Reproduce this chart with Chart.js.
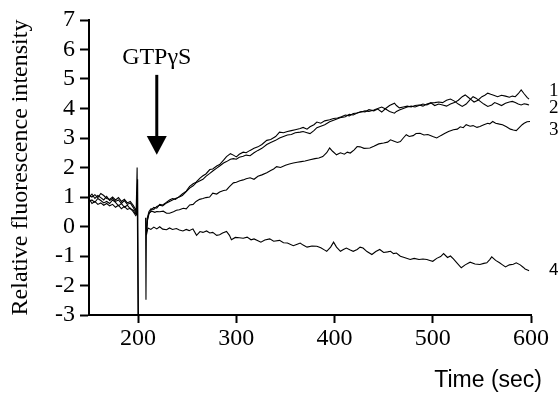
<!DOCTYPE html>
<html>
<head>
<meta charset="utf-8">
<script src="https://cdn.jsdelivr.net/npm/chart.js@4.4.1/dist/chart.umd.min.js"></script>
<style>
html,body{margin:0;padding:0;background:#fff;}
canvas{display:block;}
</style>
</head>
<body>
<canvas id="c" width="560" height="395"></canvas>
<script>
// ---- data (time in sec, relative fluorescence intensity) ----
const seriesNames = ["1", "2", "3", "4"];
const xTicks = [200, 300, 400, 500, 600];
const yTicks = [-3, -2, -1, 0, 1, 2, 3, 4, 5, 6, 7];
const yRange = [-3, 7];
const xRange = [150, 600];
const xTitle = "Time (sec)";
const yTitle = "Relative fluorescence intensity";
const injectLabel = "GTP\u03B3S";
const injectTime = 219;           // arrow position (sec)
const arrowValues = [5.14, 3.07, 2.43]; // arrow top, head base, tip (intensity units)
const injectLabelValue = 5.5;
const endLabelValues = [4.6, 4.0, 3.28, -1.5];

const series1 = [
 [150,1.05],[153,1.0],[156,1.08],[159,0.98],[162,1.12],[165,1.05],[168,0.95],[171,0.92],[174,1.0],[177,0.9],
 [180,0.98],[183,0.85],[186,0.92],[189,0.8],[192,0.85],[195,0.72],[197,0.6],[198,0.5],[199,2.0],[200,-3.8],
 [203,null],
 [208.5,-0.2],[209.5,0.2],[211,0.42],[213,0.55],[216,0.65],[219,0.62],[222,0.75],[225,0.73],[228,0.8],[232,0.9],
 [235,0.95],[238,0.92],[242,1.02],[245,1.1],[249,1.2],[252.5,1.36],[256,1.45],[259,1.5],[263,1.64],[266,1.72],
 [269,1.78],[273,1.93],[276,1.95],[280,2.05],[283,2.1],[287,2.25],[290,2.37],[294,2.47],[297,2.42],[300,2.36],
 [303,2.45],[307,2.52],[310,2.5],[314,2.58],[318,2.65],[322,2.7],[326,2.78],[331,2.92],[335,2.95],[340,3.05],
 [344,3.2],[348,3.18],[352,3.22],[356,3.25],[360,3.28],[365,3.32],[368,3.36],[372,3.3],[375,3.38],[379,3.45],
 [382,3.54],[386,3.5],[390,3.58],[395,3.62],[399,3.66],[403,3.68],[407,3.72],[411,3.78],[415,3.75],[419,3.83],
 [423,3.85],[427,3.9],[431,3.88],[435,3.96],[440,3.92],[444,3.98],[448,3.88],[452,4.0],[456,4.1],[461,4.18],
 [463,4.1],[466,4.02],[470,4.05],[474,4.08],[478,4.05],[482,4.1],[486,4.12],[490,4.08],[494,4.15],[498,4.19],
 [502,4.1],[506,4.15],[510,4.12],[514,4.08],[518,4.15],[522,4.2],[526,4.28],[530,4.4],[533,4.46],[536,4.38],
 [539,4.3],[542,4.22],[546,4.28],[550,4.4],[553,4.45],[556,4.52],[559,4.48],[562,4.45],[566,4.4],[570,4.45],
 [574,4.42],[578,4.38],[581,4.42],[584,4.4],[587,4.5],[590,4.63],[593,4.5],[596,4.38],[598,4.32]
];
const series2 = [
 [150,0.85],[153,0.9],[156,0.82],[159,0.95],[162,0.88],[165,0.8],[168,0.85],[171,0.78],[174,0.9],[177,0.82],
 [180,0.7],[183,0.78],[186,0.65],[189,0.72],[192,0.6],[195,0.55],[197,0.45],[198.5,0.4],[199.5,1.6],[200.5,-3.8],
 [203,null],
 [208.5,-0.1],[209.5,0.3],[211,0.5],[213,0.6],[216,0.58],[219,0.68],[222,0.72],[225,0.7],[228,0.78],[232,0.85],
 [235,0.9],[238,0.95],[242,1.0],[245,1.05],[249,1.18],[252.5,1.3],[256,1.38],[259,1.48],[263,1.55],[266,1.6],
 [269,1.7],[273,1.8],[276,1.88],[280,1.98],[283,2.05],[287,2.15],[290,2.2],[294,2.28],[297,2.3],[300,2.28],
 [303,2.35],[307,2.38],[310,2.42],[314,2.4],[318,2.5],[322,2.58],[326,2.65],[331,2.78],[335,2.85],[340,2.92],
 [344,3.0],[348,3.05],[352,3.1],[356,3.12],[360,3.18],[365,3.2],[368,3.22],[372,3.18],[375,3.15],[379,3.25],
 [382,3.35],[386,3.4],[390,3.45],[395,3.55],[399,3.6],[403,3.65],[407,3.7],[411,3.72],[415,3.8],[419,3.78],
 [423,3.85],[427,3.88],[431,3.92],[435,3.9],[440,3.95],[444,4.0],[448,4.05],[452,3.98],[456,3.9],[461,3.84],
 [463,3.9],[466,3.95],[470,4.0],[474,4.05],[478,4.08],[482,4.05],[486,4.1],[490,4.15],[494,4.12],[498,4.19],
 [502,4.2],[506,4.22],[510,4.2],[514,4.28],[518,4.32],[522,4.25],[526,4.15],[530,4.07],[534,4.15],[538,4.3],
 [541,4.4],[544,4.35],[548,4.25],[552,4.15],[556,4.07],[560,4.12],[563,4.2],[566,4.16],[570,4.1],[574,4.18],
 [578,4.22],[581,4.24],[584,4.2],[587,4.15],[590,4.12],[593,4.16],[596,4.14],[598,4.12]
];
const series3 = [
 [150,0.95],[153,0.78],[156,0.85],[159,0.75],[162,0.8],[165,0.72],[168,0.78],[171,0.7],[174,0.75],[177,0.65],
 [180,0.72],[183,0.6],[186,0.68],[189,0.58],[192,0.62],[195,0.5],[198,0.35],
 [203,null],
 [208.5,-0.15],[209.5,0.25],[211,0.45],[214,0.52],[217,0.48],[219,0.51],[222,0.5],[225.6,0.52],[229,0.45],[232,0.45],
 [236,0.5],[239,0.55],[242,0.57],[246,0.62],[249,0.6],[252.5,0.73],[256,0.75],[259,0.85],[262.6,0.92],[266,0.95],
 [269,0.98],[272.8,1.0],[276,1.13],[280,1.1],[283,1.17],[287,1.22],[290,1.24],[293,1.35],[297,1.48],[300,1.5],
 [303.6,1.55],[307,1.58],[310,1.62],[314,1.65],[318,1.6],[322,1.7],[326,1.75],[331,1.82],[335,1.9],[338,1.95],
 [341,2.03],[345,2.0],[350,2.08],[354,2.12],[358,2.15],[362,2.18],[366,2.2],[370,2.22],[375,2.26],[380,2.3],
 [384,2.32],[388,2.37],[392,2.5],[395,2.66],[398,2.55],[402,2.43],[406,2.5],[410,2.45],[413,2.52],[416,2.49],
 [420,2.6],[423,2.71],[426,2.7],[430,2.65],[436,2.66],[440,2.72],[445,2.8],[450,2.83],[454,2.86],[457,2.94],
 [460,2.9],[464,2.85],[467,2.88],[470,3.0],[473,3.11],[476,3.05],[480,3.08],[483,3.15],[487,3.16],[491,3.1],
 [495,3.12],[500,3.05],[504,3.0],[508,3.08],[512,3.15],[516,3.22],[521,3.28],[525,3.3],[528,3.38],[531,3.35],
 [534,3.45],[538,3.4],[541,3.42],[545,3.36],[548,3.39],[552,3.45],[556,3.5],[558,3.48],[561,3.56],[564,3.5],
 [568,3.47],[571,3.45],[575,3.38],[579,3.3],[582,3.27],[585,3.25],[588,3.35],[591,3.45],[593,3.5],[596,3.55],[599,3.56]
];
const series4 = [
 [150,1.0],[153,1.1],[156,0.95],[159,1.05],[162,0.98],[165,0.9],[168,1.02],[171,0.88],[174,0.95],[177,0.85],
 [180,0.9],[183,0.78],[186,0.88],[189,0.75],[192,0.8],[195,0.65],[198,0.45],
 [203,null],
 [207.6,0.3],[208,-2.48],[208.4,-0.3],[210,-0.05],[213,-0.1],[216,-0.02],[219,-0.08],[222,-0.01],[225,-0.09],[229,-0.11],
 [232,-0.05],[235,-0.1],[239,-0.07],[242,-0.12],[245.6,-0.15],[249,-0.1],[252,-0.14],[255.8,-0.08],[259.5,-0.3],[263,-0.17],
 [266,-0.2],[269.7,-0.15],[273,-0.22],[276,-0.2],[280,-0.3],[283,-0.28],[286,-0.22],[290,-0.17],[293,-0.3],[295,-0.45],
 [299,-0.37],[303,-0.38],[307,-0.4],[311,-0.36],[315,-0.45],[318,-0.42],[322,-0.48],[325,-0.53],[329,-0.46],[334,-0.42],
 [338,-0.5],[344,-0.47],[348,-0.55],[352,-0.56],[358,-0.65],[362,-0.6],[365,-0.56],[368,-0.63],[372,-0.7],[377,-0.66],
 [382,-0.67],[386,-0.72],[390,-0.8],[392,-0.84],[396,-0.7],[399,-0.53],[402,-0.7],[406,-0.84],[409,-0.78],[412,-0.73],
 [416,-0.8],[419,-0.84],[423,-0.78],[426,-0.7],[429,-0.73],[433,-0.85],[438,-0.95],[442,-0.85],[446,-0.78],[450,-0.88],
 [454,-0.86],[457,-0.84],[460,-0.92],[463,-0.9],[467,-1.01],[471,-1.05],[477,-1.12],[481,-1.08],[486,-1.12],[490,-1.1],
 [494,-1.12],[497,-1.15],[500,-1.18],[504,-1.08],[508,-1.02],[511,-0.92],[515,-1.05],[518,-1.0],[521,-1.1],[525,-1.25],
 [529,-1.4],[533,-1.3],[538,-1.21],[543,-1.27],[548,-1.29],[552,-1.25],[555,-1.23],[558,-1.12],[560,-1.03],[564,-1.15],
 [568,-1.23],[571,-1.3],[574,-1.37],[578,-1.3],[582,-1.28],[585,-1.23],[589,-1.3],[592,-1.38],[594,-1.44],[597,-1.48],[598,-1.5]
];
const allSeries = [series1, series2, series3, series4];

// ---- chart ----
const SERIF = '"Liberation Serif", "Times New Roman", serif';
const SANS = '"Liberation Sans", Arial, sans-serif';

const annotations = {
  id: 'annotations',
  afterDraw(chart) {
    const {ctx, scales: {x, y}} = chart;
    ctx.save();
    ctx.fillStyle = '#000';
    ctx.strokeStyle = '#000';
    // injection label + arrow
    const ax = x.getPixelForValue(injectTime);
    ctx.font = '24px ' + SERIF;
    ctx.textAlign = 'center';
    ctx.textBaseline = 'alphabetic';
    ctx.fillText(injectLabel, ax, y.getPixelForValue(injectLabelValue));
    const yTop = y.getPixelForValue(arrowValues[0]);
    const yBase = y.getPixelForValue(arrowValues[1]);
    const yTip = y.getPixelForValue(arrowValues[2]);
    ctx.lineWidth = 3;
    ctx.beginPath();
    ctx.moveTo(ax, yTop);
    ctx.lineTo(ax, yBase + 1);
    ctx.stroke();
    ctx.beginPath();
    ctx.moveTo(ax - 10, yBase);
    ctx.lineTo(ax + 10, yBase);
    ctx.lineTo(ax, yTip);
    ctx.closePath();
    ctx.fill();
    // end-of-curve labels
    const lx = x.right + 18;
    ctx.textAlign = 'left';
    ctx.textBaseline = 'middle';
    seriesNames.forEach((name, i) => {
      ctx.font = (i === 3 ? '17px ' + SANS : '19px ' + SERIF);
      ctx.fillText(name, lx, y.getPixelForValue(endLabelValues[i]));
    });
    // x axis title
    ctx.font = '23px ' + SANS;
    ctx.textAlign = 'right';
    ctx.textBaseline = 'alphabetic';
    ctx.fillText(xTitle, x.right + 11, x.bottom - 8);
    ctx.restore();
  }
};

new Chart(document.getElementById('c'), {
  type: 'line',
  data: {
    datasets: allSeries.map((s, i) => ({
      label: seriesNames[i],
      data: s.map(p => ({x: p[0], y: p[1]})),
      borderColor: '#000',
      borderWidth: 1.1,
      pointRadius: 0,
      tension: 0,
      spanGaps: false,
      fill: false
    }))
  },
  options: {
    responsive: false,
    animation: false,
    devicePixelRatio: 1,
    layout: {padding: {top: 20, right: 29, left: 0, bottom: 0}},
    plugins: {legend: {display: false}, tooltip: {enabled: false}},
    scales: {
      x: {
        type: 'linear',
        min: xRange[0], max: xRange[1],
        afterBuildTicks: (s) => { s.ticks = xTicks.map(v => ({value: v})); },
        afterFit: (s) => { s.height = 80; },
        ticks: {color: '#000', font: {family: SERIF, size: 24}, padding: 1, maxRotation: 0, autoSkip: false},
        grid: {display: true, drawOnChartArea: false, drawTicks: true, tickLength: 8, tickColor: '#000', tickWidth: 2},
        border: {display: true, color: '#000', width: 2}
      },
      y: {
        type: 'linear',
        min: yRange[0], max: yRange[1],
        afterBuildTicks: (s) => { s.ticks = yTicks.map(v => ({value: v})); },
        afterFit: (s) => { s.width = 89; },
        ticks: {color: '#000', font: {family: SERIF, size: 24}, padding: 5, autoSkip: false},
        grid: {display: true, drawOnChartArea: false, drawTicks: true, tickLength: 9, tickColor: '#000', tickWidth: 2},
        border: {display: true, color: '#000', width: 2},
        title: {display: true, text: yTitle, color: '#000', font: {family: SERIF, size: 24}, padding: {top: 6, bottom: 0}}
      }
    }
  },
  plugins: [annotations]
});
</script>
</body>
</html>
